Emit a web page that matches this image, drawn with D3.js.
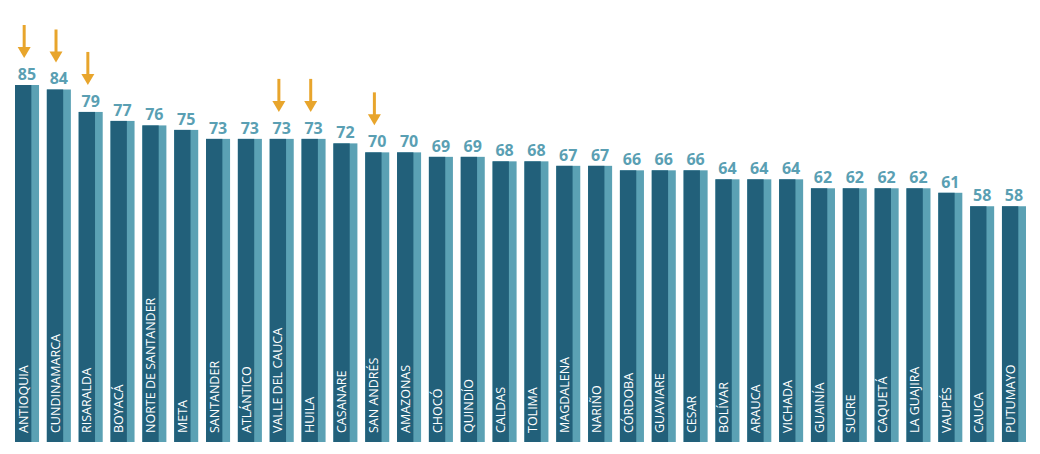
<!DOCTYPE html>
<html><head><meta charset="utf-8">
<script src="https://cdn.jsdelivr.net/npm/d3@7"></script>
<style>body{margin:0;background:#fff}</style>
</head><body>
<svg id="chart" width="1040" height="454"></svg>
<script>
var departments = ["ANTIOQUIA","CUNDINAMARCA","RISARALDA","BOYACÁ","NORTE DE SANTANDER","META","SANTANDER","ATLÁNTICO","VALLE DEL CAUCA","HUILA","CASANARE","SAN ANDRÉS","AMAZONAS","CHOCÓ","QUINDÍO","CALDAS","TOLIMA","MAGDALENA","NARIÑO","CÓRDOBA","GUAVIARE","CESAR","BOLÍVAR","ARAUCA","VICHADA","GUAINÍA","SUCRE","CAQUETÁ","LA GUAJIRA","VAUPÉS","CAUCA","PUTUMAYO"];
var scores = [85,84,79,77,76,75,73,73,73,73,72,70,70,69,69,68,68,67,67,66,66,66,64,64,64,62,62,62,62,61,58,58];
var highlighted = ["ANTIOQUIA","CUNDINAMARCA","RISARALDA","VALLE DEL CAUCA","HUILA","SAN ANDRÉS"];

var svg = d3.select("#chart");
var x = d3.scaleBand().domain(departments).range([15, 1026]).paddingInner(0.245).paddingOuter(0);
var y = d3.scaleLinear().domain([5.5, 85]).range([442, 85]);

var g = svg.selectAll("g.bar").data(departments).enter().append("g")
	.attr("transform", function (d) { return "translate(" + x(d) + ",0)"; });

var bw = x.bandwidth(), dark = bw * 0.68;
g.append("rect").attr("y", function (d, i) { return y(scores[i]); })
	.attr("width", bw).attr("height", function (d, i) { return 442 - y(scores[i]); })
	.attr("fill", "#5ba1b4");
g.append("rect").attr("y", function (d, i) { return y(scores[i]); })
	.attr("width", dark).attr("height", function (d, i) { return 442 - y(scores[i]); })
	.attr("fill", "#22607a");

g.append("text").attr("x", bw / 2).attr("y", function (d, i) { return y(scores[i]) - 5; })
	.attr("text-anchor", "middle").attr("fill", "#5a9fb3")
	.style("font", "bold 16px 'Open Sans', sans-serif")
	.text(function (d, i) { return scores[i]; });

g.append("text").attr("transform", "translate(" + (dark / 2 + 4.5) + ",433) rotate(-90)")
	.attr("fill", "#fff").style("font", "12.5px 'Open Sans', sans-serif")
	.text(function (d) { return d; });

var arrows = g.filter(function (d) { return highlighted.indexOf(d) >= 0; });
arrows.append("line").attr("x1", dark / 2 + 1).attr("x2", dark / 2 + 1)
	.attr("y1", function (d) { return y(scores[departments.indexOf(d)]) - 60; })
	.attr("y2", function (d) { return y(scores[departments.indexOf(d)]) - 37; })
	.attr("stroke", "#e8a52c").attr("stroke-width", 3);
arrows.append("path").attr("fill", "#e8a52c")
	.attr("d", function (d) {
		var t = y(scores[departments.indexOf(d)]) - 27, cx = dark / 2 + 1;
		return "M" + (cx - 6.5) + "," + (t - 11) + "L" + (cx + 6.5) + "," + (t - 11) + "L" + cx + "," + t + "Z";
	});
</script>
</body></html>
